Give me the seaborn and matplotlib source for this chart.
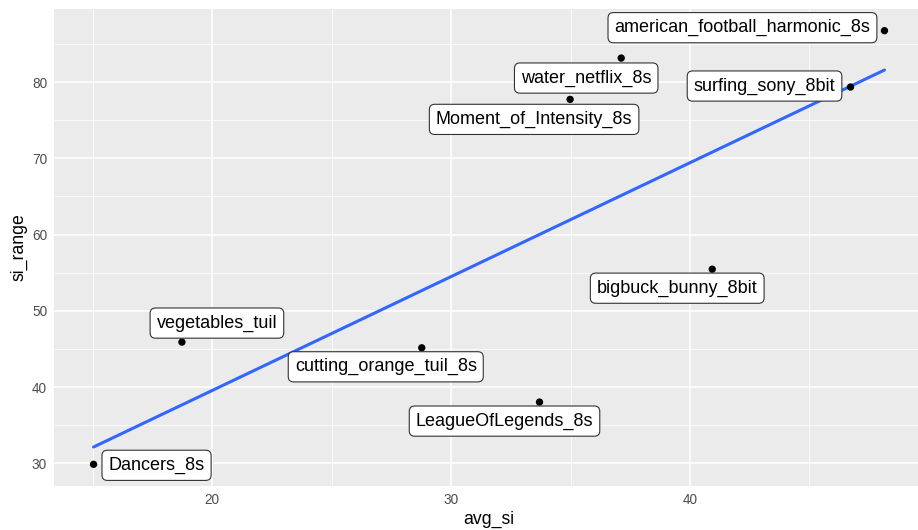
import numpy as np
import pandas as pd
import matplotlib
matplotlib.use("Agg")
import matplotlib.pyplot as plt
import seaborn as sns

# Per-clip spatial information: mean SI and SI range
names = [
    "american_football_harmonic_8s",
    "water_netflix_8s",
    "surfing_sony_8bit",
    "Moment_of_Intensity_8s",
    "vegetables_tuil",
    "cutting_orange_tuil_8s",
    "LeagueOfLegends_8s",
    "bigbuck_bunny_8bit",
    "Dancers_8s",
]
avg_si = [48.14, 37.12, 46.72, 34.98, 18.73, 28.77, 33.70, 40.93, 15.03]
si_range = [86.74, 83.15, 79.35, 77.73, 45.90, 45.15, 38.03, 55.46, 29.87]

x_ticks = [20, 30, 40]
y_ticks = [30, 40, 50, 60, 70, 80]

df = pd.DataFrame({"name": names, "avg_si": avg_si, "si_range": si_range})

# label offsets from their points, in pixels (repel-style placement)
label_offsets = {
    "american_football_harmonic_8s": (-142, 3),
    "water_netflix_8s": (-35, -20),
    "surfing_sony_8bit": (-86, 1),
    "Moment_of_Intensity_8s": (-36, -20),
    "vegetables_tuil": (35, 19),
    "cutting_orange_tuil_8s": (-36, -19),
    "LeagueOfLegends_8s": (-35, -19),
    "bigbuck_bunny_8bit": (-35, -19),
    "Dancers_8s": (63, -1),
}

sns.set_theme(style="darkgrid")
plt.rcParams["font.family"] = ["Liberation Sans", "DejaVu Sans"]

W, H = 918, 530
fig = plt.figure(figsize=(W / 100, H / 100), dpi=100)
left, right, top, bottom = 54, 924, 9, 486
ax = fig.add_axes([left / W, (H - bottom) / H, (right - left) / W, (bottom - top) / H])
ax.set_facecolor("#EBEBEB")


def expand(vals, f=0.05):
    lo, hi = min(vals), max(vals)
    d = (hi - lo) * f
    return lo - d, hi + d


ax.set_xlim(*expand(avg_si))
ax.set_ylim(*expand(si_range))

# ggplot-like grid
ax.set_xticks(x_ticks)
ax.set_yticks(y_ticks)
ax.set_xticks([15, 25, 35, 45], minor=True)
ax.set_yticks([35, 45, 55, 65, 75, 85], minor=True)
ax.grid(which="major", color="white", linewidth=1.1)
ax.grid(which="minor", color="white", linewidth=0.55)
ax.set_axisbelow(True)
for s in ax.spines.values():
    s.set_visible(False)

sns.regplot(
    data=df, x="avg_si", y="si_range", ax=ax, ci=None,
    scatter=False, line_kws={"color": "#3366FF", "linewidth": 2.2, "zorder": 3},
)
sns.scatterplot(data=df, x="avg_si", y="si_range", ax=ax, color="black",
                s=28, edgecolor="none", zorder=4)

for name, xv, yv in zip(names, avg_si, si_range):
    dx, dy = label_offsets[name]
    ax.annotate(
        name, (xv, yv), xytext=(dx, dy), textcoords="offset pixels",
        ha="center", va="center", fontsize=13, color="black", zorder=5,
        bbox=dict(boxstyle="round,pad=0.36,rounding_size=0.3", fc="white",
                  ec="#333333", lw=0.8),
    )

ax.tick_params(axis="both", which="major", length=3, width=0.9, color="#333333",
               labelsize=9.8, labelcolor="#4D4D4D", pad=2, direction="out")
ax.tick_params(which="minor", length=0)
ax.set_xticklabels([str(t) for t in x_ticks])
ax.set_yticklabels([str(t) for t in y_ticks])
ax.set_xlabel("avg_si", fontsize=12.7, color="black", labelpad=3)
ax.set_ylabel("si_range", fontsize=12.7, color="black", labelpad=3)

fig.savefig("out.png", dpi=100)
